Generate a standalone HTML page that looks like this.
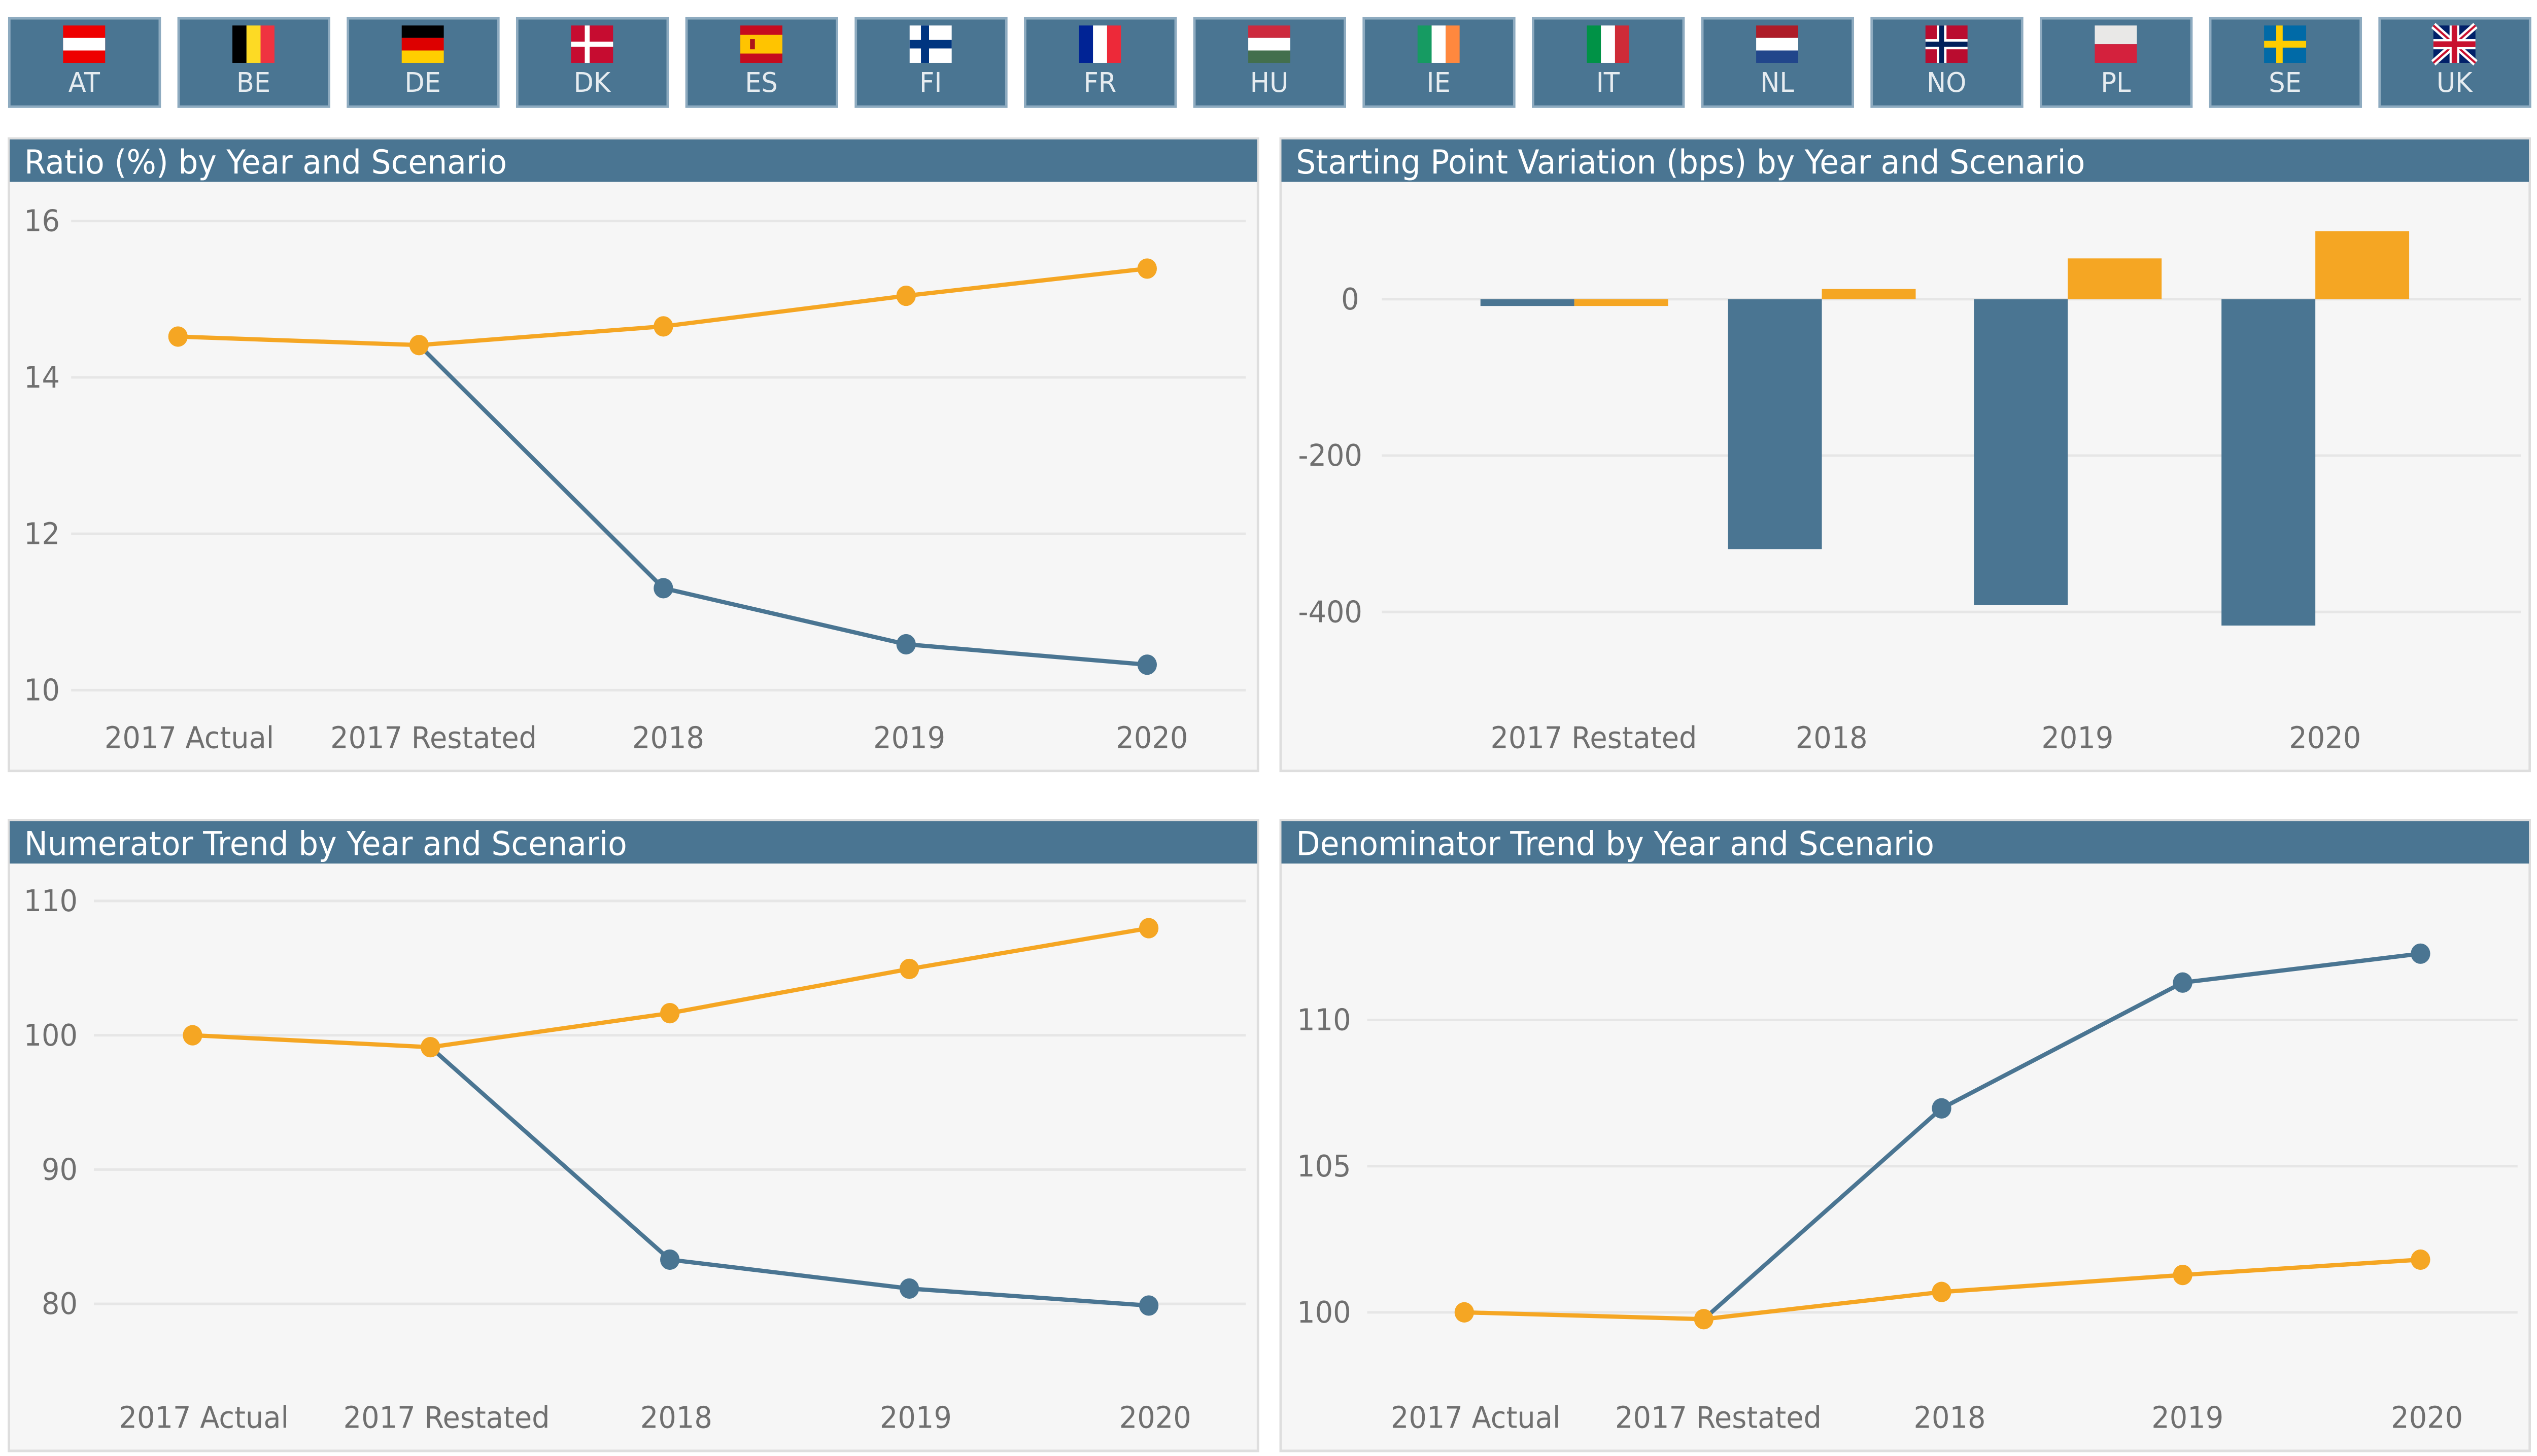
<!DOCTYPE html>
<html><head><meta charset="utf-8"><style>
html,body{margin:0;padding:0;background:#fff;overflow:hidden;width:100%;height:100%;}
svg{display:block;position:fixed;left:0;top:0;width:100%;height:100%;}
text{font-family:"DejaVu Sans","Liberation Sans",sans-serif;}
</style></head><body>
<svg viewBox="0 0 1568 856.5" preserveAspectRatio="none" xmlns="http://www.w3.org/2000/svg">
<rect width="1568" height="856.5" fill="#fff"/>
<g font-size="16" fill="#e6ecf0" text-anchor="middle">
<g transform="translate(5,10)"><rect x="0.75" y="0.75" width="93" height="52" fill="#4a7592" stroke="#8eabc0" stroke-width="1.5"/><g transform="translate(34,5)"><rect width="26" height="22" fill="#e00"/><rect y="7.3" width="26" height="7.4" fill="#fff"/></g><text x="47" y="44" fill="#e6ecf0">AT</text></g>
<g transform="translate(109.64,10)"><rect x="0.75" y="0.75" width="93" height="52" fill="#4a7592" stroke="#8eabc0" stroke-width="1.5"/><g transform="translate(34,5)"><rect width="8.7" height="22" fill="#000"/><rect x="8.7" width="8.7" height="22" fill="#fdda24"/><rect x="17.4" width="8.6" height="22" fill="#ef3340"/></g><text x="47" y="44" fill="#e6ecf0">BE</text></g>
<g transform="translate(214.28,10)"><rect x="0.75" y="0.75" width="93" height="52" fill="#4a7592" stroke="#8eabc0" stroke-width="1.5"/><g transform="translate(34,5)"><rect width="26" height="7.3" fill="#000"/><rect y="7.3" width="26" height="7.4" fill="#d00"/><rect y="14.7" width="26" height="7.3" fill="#ffce00"/></g><text x="47" y="44" fill="#e6ecf0">DE</text></g>
<g transform="translate(318.92,10)"><rect x="0.75" y="0.75" width="93" height="52" fill="#4a7592" stroke="#8eabc0" stroke-width="1.5"/><g transform="translate(34,5)"><rect width="26" height="22" fill="#c60c30"/><rect x="8.5" width="3" height="22" fill="#fff"/><rect y="9.5" width="26" height="3" fill="#fff"/></g><text x="47" y="44" fill="#e6ecf0">DK</text></g>
<g transform="translate(423.56,10)"><rect x="0.75" y="0.75" width="93" height="52" fill="#4a7592" stroke="#8eabc0" stroke-width="1.5"/><g transform="translate(34,5)"><rect width="26" height="22" fill="#c60b1e"/><rect y="5.5" width="26" height="11" fill="#ffc400"/><rect x="6" y="8" width="3" height="6" fill="#ad1519"/></g><text x="47" y="44" fill="#e6ecf0">ES</text></g>
<g transform="translate(528.2,10)"><rect x="0.75" y="0.75" width="93" height="52" fill="#4a7592" stroke="#8eabc0" stroke-width="1.5"/><g transform="translate(34,5)"><rect width="26" height="22" fill="#fff"/><rect x="7" width="5" height="22" fill="#003580"/><rect y="8.5" width="26" height="5" fill="#003580"/></g><text x="47" y="44" fill="#e6ecf0">FI</text></g>
<g transform="translate(632.84,10)"><rect x="0.75" y="0.75" width="93" height="52" fill="#4a7592" stroke="#8eabc0" stroke-width="1.5"/><g transform="translate(34,5)"><rect width="8.7" height="22" fill="#002395"/><rect x="8.7" width="8.7" height="22" fill="#fff"/><rect x="17.4" width="8.6" height="22" fill="#ed2939"/></g><text x="47" y="44" fill="#e6ecf0">FR</text></g>
<g transform="translate(737.48,10)"><rect x="0.75" y="0.75" width="93" height="52" fill="#4a7592" stroke="#8eabc0" stroke-width="1.5"/><g transform="translate(34,5)"><rect width="26" height="7.3" fill="#cd2a3e"/><rect y="7.3" width="26" height="7.4" fill="#fff"/><rect y="14.7" width="26" height="7.3" fill="#436f4d"/></g><text x="47" y="44" fill="#e6ecf0">HU</text></g>
<g transform="translate(842.12,10)"><rect x="0.75" y="0.75" width="93" height="52" fill="#4a7592" stroke="#8eabc0" stroke-width="1.5"/><g transform="translate(34,5)"><rect width="8.7" height="22" fill="#169b62"/><rect x="8.7" width="8.7" height="22" fill="#fff"/><rect x="17.4" width="8.6" height="22" fill="#ff883e"/></g><text x="47" y="44" fill="#e6ecf0">IE</text></g>
<g transform="translate(946.76,10)"><rect x="0.75" y="0.75" width="93" height="52" fill="#4a7592" stroke="#8eabc0" stroke-width="1.5"/><g transform="translate(34,5)"><rect width="8.7" height="22" fill="#009246"/><rect x="8.7" width="8.7" height="22" fill="#fff"/><rect x="17.4" width="8.6" height="22" fill="#ce2b37"/></g><text x="47" y="44" fill="#e6ecf0">IT</text></g>
<g transform="translate(1051.4,10)"><rect x="0.75" y="0.75" width="93" height="52" fill="#4a7592" stroke="#8eabc0" stroke-width="1.5"/><g transform="translate(34,5)"><rect width="26" height="7.3" fill="#ae1c28"/><rect y="7.3" width="26" height="7.4" fill="#fff"/><rect y="14.7" width="26" height="7.3" fill="#21468b"/></g><text x="47" y="44" fill="#e6ecf0">NL</text></g>
<g transform="translate(1156.04,10)"><rect x="0.75" y="0.75" width="93" height="52" fill="#4a7592" stroke="#8eabc0" stroke-width="1.5"/><g transform="translate(34,5)"><rect width="26" height="22" fill="#ba0c2f"/><rect x="7" width="6" height="22" fill="#fff"/><rect y="8" width="26" height="6" fill="#fff"/><rect x="8.5" width="3" height="22" fill="#00205b"/><rect y="9.5" width="26" height="3" fill="#00205b"/></g><text x="47" y="44" fill="#e6ecf0">NO</text></g>
<g transform="translate(1260.68,10)"><rect x="0.75" y="0.75" width="93" height="52" fill="#4a7592" stroke="#8eabc0" stroke-width="1.5"/><g transform="translate(34,5)"><rect width="26" height="11" fill="#e9e8e7"/><rect y="11" width="26" height="11" fill="#d4213d"/></g><text x="47" y="44" fill="#e6ecf0">PL</text></g>
<g transform="translate(1365.32,10)"><rect x="0.75" y="0.75" width="93" height="52" fill="#4a7592" stroke="#8eabc0" stroke-width="1.5"/><g transform="translate(34,5)"><rect width="26" height="22" fill="#006aa7"/><rect x="7.5" width="4" height="22" fill="#fecc00"/><rect y="9" width="26" height="4" fill="#fecc00"/></g><text x="47" y="44" fill="#e6ecf0">SE</text></g>
<g transform="translate(1469.96,10)"><rect x="0.75" y="0.75" width="93" height="52" fill="#4a7592" stroke="#8eabc0" stroke-width="1.5"/><g transform="translate(34,5)"><rect width="26" height="22" fill="#012169"/><path d="M0 0L26 22M26 0L0 22" stroke="#fff" stroke-width="4"/><path d="M0 0L26 22M26 0L0 22" stroke="#c8102e" stroke-width="1.3"/><rect x="10" width="6" height="22" fill="#fff"/><rect y="8" width="26" height="6" fill="#fff"/><rect x="11.3" width="3.4" height="22" fill="#c8102e"/><rect y="9.3" width="26" height="3.4" fill="#c8102e"/></g><text x="47" y="44" fill="#e6ecf0">UK</text></g>
</g>

<g font-size="19.3">
<rect x="5.5" y="81.5" width="772" height="372" fill="#f6f6f6" stroke="#dedede" stroke-width="1.5"/>
<rect x="6" y="82" width="771" height="25" fill="#4a7592"/>
<text x="15" y="102" fill="#fff">Ratio (%) by Year and Scenario</text>
<rect x="791.5" y="81.5" width="772" height="372" fill="#f6f6f6" stroke="#dedede" stroke-width="1.5"/>
<rect x="792" y="82" width="771" height="25" fill="#4a7592"/>
<text x="801" y="102" fill="#fff">Starting Point Variation (bps) by Year and Scenario</text>
<rect x="5.5" y="482.5" width="772" height="371" fill="#f6f6f6" stroke="#dedede" stroke-width="1.5"/>
<rect x="6" y="483" width="771" height="25" fill="#4a7592"/>
<text x="15" y="503" fill="#fff">Numerator Trend by Year and Scenario</text>
<rect x="791.5" y="482.5" width="772" height="371" fill="#f6f6f6" stroke="#dedede" stroke-width="1.5"/>
<rect x="792" y="483" width="771" height="25" fill="#4a7592"/>
<text x="801" y="503" fill="#fff">Denominator Trend by Year and Scenario</text>
</g>

<g font-size="17.5" fill="#6f6f6f">
<g stroke="#e6e6e6" stroke-width="1.5"><line x1="44" x2="770" y1="130" y2="130"/><line x1="44" x2="770" y1="222" y2="222"/><line x1="44" x2="770" y1="314" y2="314"/><line x1="44" x2="770" y1="406" y2="406"/></g>
<g text-anchor="end"><text x="37" y="136">16</text><text x="37" y="228">14</text><text x="37" y="320">12</text><text x="37" y="412">10</text></g>
<g text-anchor="middle"><text x="117" y="440">2017 Actual</text><text x="268" y="440">2017 Restated</text><text x="413" y="440">2018</text><text x="562" y="440">2019</text><text x="712" y="440">2020</text></g>
<polyline points="259,203 410,346 560,379 709,391" fill="none" stroke="#4a7592" stroke-width="2.5"/>
<g fill="#4a7592"><circle cx="410" cy="346" r="6"/><circle cx="560" cy="379" r="6"/><circle cx="709" cy="391" r="6"/></g>
<polyline points="110,198 259,203 410,192 560,174 709,158" fill="none" stroke="#f5a623" stroke-width="2.5"/>
<g fill="#f5a623"><circle cx="110" cy="198" r="6"/><circle cx="259" cy="203" r="6"/><circle cx="410" cy="192" r="6"/><circle cx="560" cy="174" r="6"/><circle cx="709" cy="158" r="6"/></g>

<g stroke="#e6e6e6" stroke-width="1.5"><line x1="854" x2="1558" y1="176" y2="176"/><line x1="854" x2="1558" y1="268" y2="268"/><line x1="854" x2="1558" y1="360" y2="360"/></g>
<g text-anchor="end"><text x="840" y="182">0</text><text x="842" y="274">-200</text><text x="842" y="366">-400</text></g>
<g fill="#4a7592"><rect x="915" y="176" width="58" height="4"/><rect x="1068" y="176" width="58" height="147"/><rect x="1220" y="176" width="58" height="180"/><rect x="1373" y="176" width="58" height="192"/></g>
<g fill="#f5a623"><rect x="973" y="176" width="58" height="4"/><rect x="1126" y="170" width="58" height="6"/><rect x="1278" y="152" width="58" height="24"/><rect x="1431" y="136" width="58" height="40"/></g>
<g text-anchor="middle"><text x="985" y="440">2017 Restated</text><text x="1132" y="440">2018</text><text x="1284" y="440">2019</text><text x="1437" y="440">2020</text></g>

<g stroke="#e6e6e6" stroke-width="1.5"><line x1="58" x2="770" y1="530" y2="530"/><line x1="58" x2="770" y1="609" y2="609"/><line x1="58" x2="770" y1="688" y2="688"/><line x1="58" x2="770" y1="767" y2="767"/></g>
<g text-anchor="end"><text x="48" y="536">110</text><text x="48" y="615">100</text><text x="48" y="694">90</text><text x="48" y="773">80</text></g>
<g text-anchor="middle"><text x="126" y="840">2017 Actual</text><text x="276" y="840">2017 Restated</text><text x="418" y="840">2018</text><text x="566" y="840">2019</text><text x="714" y="840">2020</text></g>
<polyline points="266,616 414,741 562,758 710,768" fill="none" stroke="#4a7592" stroke-width="2.5"/>
<g fill="#4a7592"><circle cx="414" cy="741" r="6"/><circle cx="562" cy="758" r="6"/><circle cx="710" cy="768" r="6"/></g>
<polyline points="119,609 266,616 414,596 562,570 710,546" fill="none" stroke="#f5a623" stroke-width="2.5"/>
<g fill="#f5a623"><circle cx="119" cy="609" r="6"/><circle cx="266" cy="616" r="6"/><circle cx="414" cy="596" r="6"/><circle cx="562" cy="570" r="6"/><circle cx="710" cy="546" r="6"/></g>

<g stroke="#e6e6e6" stroke-width="1.5"><line x1="845" x2="1556" y1="600" y2="600"/><line x1="845" x2="1556" y1="686" y2="686"/><line x1="845" x2="1556" y1="772" y2="772"/></g>
<g text-anchor="end"><text x="835" y="606">110</text><text x="835" y="692">105</text><text x="835" y="778">100</text></g>
<g text-anchor="middle"><text x="912" y="840">2017 Actual</text><text x="1062" y="840">2017 Restated</text><text x="1205" y="840">2018</text><text x="1352" y="840">2019</text><text x="1500" y="840">2020</text></g>
<polyline points="1053,776 1200,652 1349,578 1496,561" fill="none" stroke="#4a7592" stroke-width="2.5"/>
<g fill="#4a7592"><circle cx="1200" cy="652" r="6"/><circle cx="1349" cy="578" r="6"/><circle cx="1496" cy="561" r="6"/></g>
<polyline points="905,772 1053,776 1200,760 1349,750 1496,741" fill="none" stroke="#f5a623" stroke-width="2.5"/>
<g fill="#f5a623"><circle cx="905" cy="772" r="6"/><circle cx="1053" cy="776" r="6"/><circle cx="1200" cy="760" r="6"/><circle cx="1349" cy="750" r="6"/><circle cx="1496" cy="741" r="6"/></g>
</g>
</svg>
</body></html>
